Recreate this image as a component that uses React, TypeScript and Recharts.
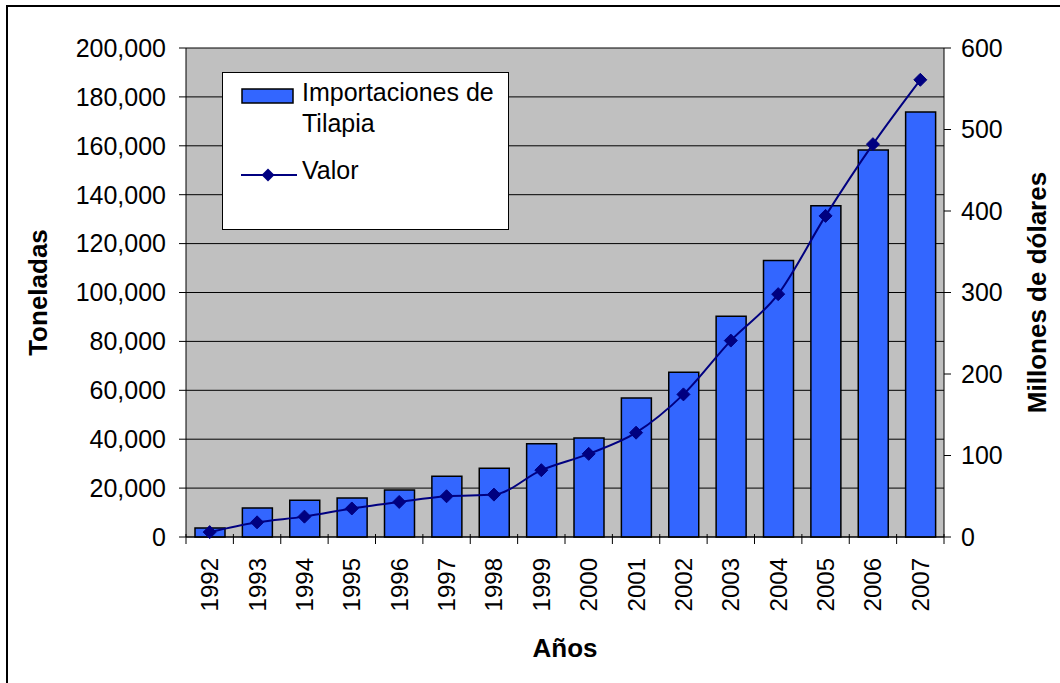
import React from "react";
import {
  ComposedChart,
  Bar,
  Line,
  XAxis,
  YAxis,
  CartesianGrid,
  Legend,
} from "recharts";

const years = [
  "1992", "1993", "1994", "1995", "1996", "1997", "1998", "1999",
  "2000", "2001", "2002", "2003", "2004", "2005", "2006", "2007",
];
// toneladas importadas
const importaciones = [
  3700, 11900, 15000, 16000, 19200, 24800, 28100, 38100,
  40500, 56900, 67400, 90300, 113100, 135500, 158300, 173800,
];
// millones de dólares
const valor = [
  6, 18, 25, 35, 43, 50, 52, 82, 102, 128, 175, 241, 298, 394, 482, 561,
];
const leftTicks = [0, 20000, 40000, 60000, 80000, 100000, 120000, 140000, 160000, 180000, 200000];
const rightTicks = [0, 100, 200, 300, 400, 500, 600];

const data = years.map((year, i) => ({
  year,
  importaciones: importaciones[i],
  valor: valor[i],
}));

const FONT = '"Liberation Sans", Arial, sans-serif';
const W = 1060;
const H = 683;
const LEFT_W = 186;
const RIGHT_W = 116;
const BAND = (W - LEFT_W - RIGHT_W) / years.length;

const YearTick = (props: any) => {
  const { x, y, payload, index } = props;
  const half = payload?.offset || BAND / 2;
  const ty = y + 21;
  return (
    <g>
      <line x1={x - half} x2={x - half} y1={y - 3} y2={y + 7} stroke="#000" />
      {index === years.length - 1 && (
        <line x1={x + half} x2={x + half} y1={y - 3} y2={y + 7} stroke="#000" />
      )}
      <text
        x={x}
        y={ty}
        transform={`rotate(-90, ${x}, ${ty})`}
        textAnchor="end"
        dominantBaseline="central"
        fontSize={24}
        fontFamily={FONT}
        fill="#000"
      >
        {payload.value}
      </text>
    </g>
  );
};

const Diamond = (props: any) => {
  const { cx, cy } = props;
  if (cx == null || cy == null) return null;
  const s = 6.5;
  return (
    <polygon
      points={`${cx},${cy - s} ${cx + s},${cy} ${cx},${cy + s} ${cx - s},${cy}`}
      fill="#000080"
      stroke="#000080"
    />
  );
};

const titleStyle = {
  fontFamily: FONT,
  fontSize: 26,
  fontWeight: "bold" as const,
  fill: "#000",
};

const LeftTitle = (props: any) => {
  const { x, y, height } = props.viewBox;
  const cx = x + 38;
  const cy = y + height / 2;
  return (
    <text x={cx} y={cy} transform={`rotate(-90, ${cx}, ${cy})`} textAnchor="middle" dominantBaseline="central" {...titleStyle}>
      Toneladas
    </text>
  );
};

const RightTitle = (props: any) => {
  const { x, y, height } = props.viewBox;
  const cx = x + 93;
  const cy = y + height / 2;
  return (
    <text x={cx} y={cy} transform={`rotate(-90, ${cx}, ${cy})`} textAnchor="middle" dominantBaseline="central" {...titleStyle}>
      Millones de dólares
    </text>
  );
};

const BottomTitle = (props: any) => {
  const { x, y, width } = props.viewBox;
  return (
    <text x={x + width / 2} y={y + 111} textAnchor="middle" dominantBaseline="central" {...titleStyle}>
      Años
    </text>
  );
};

const renderLegend = () => (
  <div
    style={{
      position: "relative",
      width: 287,
      height: 158,
      boxSizing: "border-box",
      border: "1.5px solid #000",
      background: "#fff",
      fontFamily: FONT,
      fontSize: 25,
      lineHeight: "31px",
      color: "#000",
    }}
  >
    <svg style={{ position: "absolute", left: 18, top: 15 }} width={54} height={16}>
      <rect x={1} y={1} width={51} height={14} fill="#3366FF" stroke="#000" strokeWidth={1.5} />
    </svg>
    <div style={{ position: "absolute", left: 79, top: 4, whiteSpace: "nowrap" }}>
      Importaciones de
      <br />
      Tilapia
    </div>
    <svg style={{ position: "absolute", left: 18, top: 93 }} width={56} height={18}>
      <line x1={0} x2={56} y1={9} y2={9} stroke="#000080" strokeWidth={2} />
      <polygon points="27,2.5 33.5,9 27,15.5 20.5,9" fill="#000080" />
    </svg>
    <div style={{ position: "absolute", left: 79, top: 82 }}>Valor</div>
  </div>
);

export default function App() {
  return (
    <div style={{ position: "absolute", left: 0, top: 0, width: W, height: H, overflow: "hidden", background: "#fff" }}>
      <div
        style={{
          position: "absolute",
          left: 6,
          top: 5,
          width: 1200,
          height: 1000,
          border: "2px solid #000",
        }}
      />
      <div style={{ position: "absolute", left: 0, top: 0 }}>
        <ComposedChart width={W} height={H} data={data} margin={{ top: 48, right: 0, bottom: 0, left: 0 }} barSize={30}>
          <CartesianGrid vertical={false} fill="#C0C0C0" stroke="#000" yAxisId="left" />
          <XAxis
            dataKey="year"
            height={146}
            axisLine={{ stroke: "#000" }}
            tickLine={false}
            tickSize={0}
            tickMargin={0}
            interval={0}
            tick={<YearTick />}
            label={<BottomTitle />}
          />
          <YAxis
            yAxisId="left"
            width={LEFT_W}
            domain={[0, 200000]}
            ticks={leftTicks}
            tickFormatter={(v: number) => v.toLocaleString("en-US")}
            axisLine={{ stroke: "#000" }}
            tickLine={{ stroke: "#000" }}
            tickSize={7}
            tickMargin={13}
            tick={{ fontSize: 25, fontFamily: FONT, fill: "#000" }}
            label={<LeftTitle />}
          />
          <YAxis
            yAxisId="right"
            orientation="right"
            width={RIGHT_W}
            domain={[0, 600]}
            ticks={rightTicks}
            axisLine={{ stroke: "#000" }}
            tickLine={{ stroke: "#000" }}
            tickSize={7}
            tickMargin={10}
            tick={{ fontSize: 25, fontFamily: FONT, fill: "#000" }}
            label={<RightTitle />}
          />
          <Legend
            layout="horizontal"
            verticalAlign="middle"
            align="center"
            content={renderLegend}
            wrapperStyle={{ left: 222, top: 72, width: 287, height: 158 }}
          />
          <Bar
            yAxisId="left"
            dataKey="importaciones"
            name="Importaciones de Tilapia"
            fill="#3366FF"
            stroke="#000"
            strokeWidth={1.5}
            isAnimationActive={false}
          />
          <Line
            yAxisId="right"
            type="monotone"
            dataKey="valor"
            name="Valor"
            stroke="#000080"
            strokeWidth={2}
            dot={<Diamond />}
            activeDot={false}
            isAnimationActive={false}
          />
        </ComposedChart>
      </div>
    </div>
  );
}
